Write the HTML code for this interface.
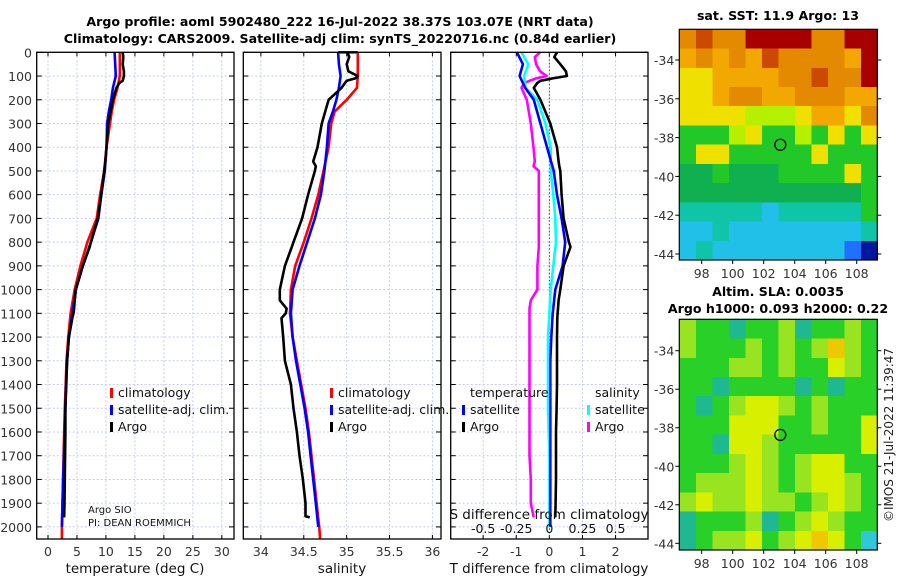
<!DOCTYPE html>
<html><head><meta charset="utf-8"><style>
html,body{margin:0;padding:0;background:#fff;}
svg{display:block;font-family:"DejaVu Sans","Liberation Sans",sans-serif;}
</style></head><body>
<svg id="fig" width="900" height="580" viewBox="0 0 900 580" xmlns="http://www.w3.org/2000/svg">
<rect x="0" y="0" width="900" height="580" fill="#fff"/>
<text x="340" y="26" text-anchor="middle" font-size="12.6" font-weight="bold" fill="#000">Argo profile: aoml 5902480_222 16-Jul-2022 38.37S 103.07E (NRT data)</text>
<text x="340" y="43" text-anchor="middle" font-size="12.6" font-weight="bold" fill="#000">Climatology: CARS2009. Satellite-adj clim: synTS_20220716.nc (0.84d earlier)</text>
<g id="panels"></g>
<text x="778" y="20" text-anchor="middle" font-size="12.6" font-weight="bold">sat. SST: 11.9 Argo: 13</text>
<text x="778" y="296" text-anchor="middle" font-size="12.6" font-weight="bold">Altim. SLA: 0.0035</text>
<text x="778" y="313" text-anchor="middle" font-size="12.6" font-weight="bold">Argo h1000: 0.093 h2000: 0.22</text>
<text transform="translate(893,435) rotate(-90)" text-anchor="middle" font-size="12" fill="#222">©IMOS 21-Jul-2022 11:39:47</text>
</svg>
<script>
// ---------- data ----------
const depthTicks = [0,100,200,300,400,500,600,700,800,900,1000,1100,1200,1300,1400,1500,1600,1700,1800,1900,2000];
const tempTicks = [0,5,10,15,20,25,30];
const salTicks = [34,34.5,35,35.5,36];
const salTickLabels = ["34","34.5","35","35.5","36"];
const tdiffTicks = [-2,-1,0,1,2];
const sdiffTicks = [-0.5,-0.25,0,0.25,0.5];
const sdiffTickLabels = ["-0.5","-0.25","0","0.25","0.5"];

const argoDepth = [0,20,50,80,100,110,120,130,150,200,300,400,460,480,500,600,700,800,820,900,1000,1045,1080,1100,1120,1200,1300,1400,1500,1600,1700,1800,1900,1955,1960];
const argoTemp  = [12.9,13.0,12.9,13.1,13.1,13.0,12.9,12.3,11.8,11.2,10.4,10.1,9.9,9.8,9.7,9.2,8.6,7.4,7.2,6.0,4.8,4.6,4.5,4.4,4.2,3.6,3.3,3.15,3.0,3.0,2.95,2.9,2.85,2.8,2.8];
const argoSal   = [35.01,35.03,35.0,35.02,35.13,35.1,35.0,34.98,34.94,34.79,34.71,34.66,34.61,34.64,34.63,34.55,34.48,34.38,34.36,34.28,34.22,34.22,34.30,34.29,34.24,34.26,34.28,34.35,34.38,34.42,34.45,34.49,34.52,34.52,34.57];
const argoTdiff = [0.23,0.15,0.33,0.5,0.53,0.1,-0.27,-0.37,-0.47,-0.27,0.03,0.23,0.28,0.3,0.33,0.37,0.43,0.59,0.64,0.43,0.33,0.28,0.26,0.25,0.24,0.23,0.23,0.23,0.22,0.2,0.2,0.2,0.19,0.18,0.18];
const argoSdiff = [-0.07,-0.11,-0.1,-0.07,-0.02,-0.1,-0.15,-0.19,-0.21,-0.17,-0.14,-0.12,-0.11,-0.12,-0.08,-0.08,-0.08,-0.08,-0.08,-0.09,-0.09,-0.14,-0.15,-0.15,-0.15,-0.15,-0.15,-0.15,-0.15,-0.15,-0.15,-0.14,-0.14,-0.12,-0.12];

const climDepth = [0,50,100,150,200,250,300,400,500,600,700,800,900,1000,1100,1200,1300,1400,1500,1600,1700,1800,1900,2000,2050];
const climTemp  = [12.4,12.4,12.4,12.0,11.4,11.0,10.7,10.1,9.7,9.0,8.4,6.8,5.6,4.6,3.9,3.5,3.2,3.05,2.9,2.8,2.7,2.6,2.5,2.4,2.4];
const climSal   = [35.13,35.13,35.13,35.12,35.0,34.86,34.82,34.79,34.73,34.67,34.59,34.50,34.40,34.35,34.34,34.37,34.42,34.47,34.52,34.56,34.59,34.62,34.65,34.68,34.69];
const satTemp   = [11.5,11.6,11.7,11.2,10.9,10.5,10.2,10.1,9.8,9.2,8.7,7.4,6.0,4.8,4.2,3.6,3.3,3.1,3.0,2.85,2.75,2.6,2.5,2.4,2.4];
const satSal    = [34.90,34.91,34.93,34.91,34.88,34.84,34.79,34.77,34.74,34.70,34.63,34.54,34.45,34.37,34.35,34.37,34.41,34.46,34.51,34.55,34.58,34.61,34.64,34.67,34.68];
const satTdiff  = [-0.98,-0.8,-0.9,-0.73,-0.47,-0.37,-0.27,-0.07,0.13,0.23,0.37,0.48,0.4,0.18,0.1,0.06,0.03,0.03,0.03,0.03,0.03,0.03,0.03,0.03,0.03];
const satSdiff  = [-0.21,-0.16,-0.19,-0.18,-0.09,-0.06,-0.03,0.01,0.01,0.03,0.045,0.05,0.03,0.01,0.0,-0.01,-0.01,-0.01,-0.01,-0.005,0,0,0,0,0];

// map data: rows north->south, 12 cols (lon ~96.6..109.4)
const sstRows = ["orooRRRRooRR","OoOoOrooooOR","yyOOOOoorooR","yyOooOOoooOO","yyyylllyOOyo","ggglygglgygy","gyygggggyggg","GGgGGGggggyg","GGGGGGGGGGGg","tttttctttttg","cctcccccccct","ctccccccccbB"];
const slaRows  = ["LggTggLTggLg","LgggLgLgLOLg","gggLLgLggyLg","ggTggggTgTgg","gTgLyyLgLggg","gggyyyggLggy","ggTyyLgggggy","gggLyLgLyygg","gLLLyLgLyyLg","LyLLyLLgLyLg","TgggLTgLyLgg","TgLLygLyOygC"];
const argoLon = 103.07, argoLat = -38.37;
const latTicks = [-34,-36,-38,-40,-42,-44];
const lonTicks = [98,100,102,104,106,108];

// ---------- drawing ----------
const NS="http://www.w3.org/2000/svg";
const root=document.getElementById('panels');
function mk(tag,attrs,parent){const e=document.createElementNS(NS,tag);for(const k in attrs)e.setAttribute(k,attrs[k]);(parent||root).appendChild(e);return e;}
const Y0=52.3, Y1=539;
function yD(d){return Y0+d*0.2373;}

function panel(name,x0,x1,vmin,vmax,ticks,labels){
  const sx=v=>x0+(v-vmin)/(vmax-vmin)*(x1-x0);
  const g=mk('g',{});
  
  
  ticks.forEach(t=>{const X=sx(t);
    const l=mk('line',{x1:X,x2:X,y1:Y0,y2:Y1,stroke:'#c6cde8','stroke-width':1,'stroke-dasharray':'2,2'},g);
    
    
    mk('line',{x1:X,x2:X,y1:Y1,y2:Y1-4,stroke:'#000'},g);
    mk('line',{x1:X,x2:X,y1:Y0,y2:Y0+4,stroke:'#000'},g);
  });
  depthTicks.forEach(d=>{const Y=yD(d);
    const l=mk('line',{x1:x0,x2:x1,y1:Y,y2:Y,stroke:'#c6cde8','stroke-width':1,'stroke-dasharray':'2,2'},g);
    
    
    mk('line',{x1:x0,x2:x0+5,y1:Y,y2:Y,stroke:'#000'},g);
    mk('line',{x1:x1-5,x2:x1,y1:Y,y2:Y,stroke:'#000'},g);
  });
  if(labels){ticks.forEach((t,i)=>{const tx=mk('text',{x:sx(t),y:556,'text-anchor':'middle','font-size':12.5,fill:'#333'},g);tx.textContent=labels[i];
    
    });}
  return {g,sx};
}
function line(p,depths,vals,color,name,w){
  const pts=depths.map((d,i)=>p.sx(vals[i]).toFixed(1)+','+yD(d).toFixed(1)).join(' ');
  const pl=mk('polyline',{points:pts,fill:'none',stroke:color,'stroke-width':w||2.6,'stroke-linejoin':'round'},p.g);
  
  
}
function frame(p,x0,x1){const r=mk('rect',{x:x0,y:Y0,width:x1-x0,height:Y1-Y0,fill:'none',stroke:'#000','stroke-width':1.3},p.g);
  
  }
function txt(p,x,y,s,size,name,anchor){const t=mk('text',{x:x,y:y,'font-size':size||12.5,fill:'#111','text-anchor':anchor||'start'},p.g);t.textContent=s;
  
  return t;}
function mark(p,x,y,color,name){const r=mk('rect',{x:x,y:y-10,width:3,height:10,fill:color},p.g);
  
  }

// temperature panel
const pT=panel('temperature-panel',36.7,234,-1.95,32.1,tempTicks,tempTicks.map(String));
depthTicks.forEach(d=>{const t=mk('text',{x:32,y:yD(d)+5,'text-anchor':'end','font-size':12.5,fill:'#333'},pT.g);t.textContent=d;
  
  });
line(pT,climDepth,climTemp,'#ff0000','temp-climatology-line');
line(pT,climDepth.slice(0,24),satTemp.slice(0,24),'#0000ff','temp-satellite-line');
line(pT,argoDepth,argoTemp,'#000000','temp-argo-line');
frame(pT,36.7,234);
txt(pT,135,573,'temperature (deg C)',13.5,'temperature-x-axis-title','middle');
mark(pT,110,398,'#ff0000','legend-climatology-marker');txt(pT,118,397,'climatology',12.5,'legend-climatology');
mark(pT,110,415,'#0000ff','legend-satellite-marker');txt(pT,118,414,'satellite-adj. clim.',12.5,'legend-satellite-adj');
mark(pT,110,432,'#000','legend-argo-marker');txt(pT,118,431,'Argo',12.5,'legend-argo');
txt(pT,88,513,'Argo SIO',10,'argo-sio-label');
txt(pT,88,526,'PI: DEAN ROEMMICH',10,'pi-label');

// salinity panel
const pS=panel('salinity-panel',243.3,441,33.795,36.1,salTicks,salTickLabels);
line(pS,[0,0],[34.9,35.13],'#0000ff','sal-surface-segment');
line(pS,climDepth,climSal,'#ff0000','sal-climatology-line');
line(pS,climDepth.slice(0,24),satSal.slice(0,24),'#0000ff','sal-satellite-line');
line(pS,argoDepth,argoSal,'#000000','sal-argo-line');
frame(pS,243.3,441);
txt(pS,342,573,'salinity',13.5,'salinity-x-axis-title','middle');
mark(pS,330,398,'#ff0000','legend-climatology-marker');txt(pS,338,397,'climatology',12.5,'legend-climatology');
mark(pS,330,415,'#0000ff','legend-satellite-marker');txt(pS,338,414,'satellite-adj. clim.',12.5,'legend-satellite-adj');
mark(pS,330,432,'#000','legend-argo-marker');txt(pS,338,431,'Argo',12.5,'legend-argo');

// difference panel (T scale; S plotted x4)
const pD=panel('difference-panel',450.7,648,-2.98,2.98,tdiffTicks,tdiffTicks.map(String));
const z=mk('line',{x1:pD.sx(0),x2:pD.sx(0),y1:Y0,y2:Y1,stroke:'#444','stroke-dasharray':'1.5,2'},pD.g);


line(pD,argoDepth,argoSdiff.map(v=>v*4),'#ff00ff','sal-diff-argo-line');
line(pD,climDepth.slice(0,24),satSdiff.slice(0,24).map(v=>v*4),'#00ffff','sal-diff-satellite-line');
line(pD,climDepth.slice(0,24),satTdiff.slice(0,24),'#0000ff','temp-diff-satellite-line');
line(pD,argoDepth,argoTdiff,'#000000','temp-diff-argo-line');
frame(pD,450.7,648);
txt(pD,549,573,'T difference from climatology',13.5,'tdiff-x-axis-title','middle');
txt(pD,549,519,'S difference from climatology',13.5,'sdiff-axis-title','middle');
sdiffTicks.forEach((s,i)=>{txt(pD,pD.sx(s*4),533,sdiffTickLabels[i],12.5,'sdiff-tick-label','middle');});
txt(pD,470,397,'temperature',12.5,'legend-temperature-header');
mark(pD,462,415,'#0000ff','legend-tsat-marker');txt(pD,470,414,'satellite',12.5,'legend-temp-satellite');
mark(pD,462,432,'#000','legend-targo-marker');txt(pD,470,431,'Argo',12.5,'legend-temp-argo');
txt(pD,595,397,'salinity',12.5,'legend-salinity-header');
mark(pD,587,415,'#00ffff','legend-ssat-marker');txt(pD,595,414,'satellite',12.5,'legend-sal-satellite');
mark(pD,587,432,'#ff00ff','legend-sargo-marker');txt(pD,595,431,'Argo',12.5,'legend-sal-argo');

// maps
const sstCol={R:'#a80000',r:'#cc4a00',o:'#e48a00',O:'#f2a800',y:'#f0e000',l:'#b4f000',g:'#22c828',G:'#10b050',t:'#10c4a8',c:'#20c0e8',b:'#2070ff',B:'#0018a0'};
const slaCol={g:'#28d028',L:'#98e420',y:'#d8f000',O:'#f0c800',T:'#20b890',C:'#30c8d8'};
function map(name,rows,cols,top,bottom,lat34,lat44){
  const X0=679.3,X1=877.3;
  const g=mk('g',{'shape-rendering':'crispEdges'});
  
  
  const nr=rows.length,nc=rows[0].length,cw=(X1-X0)/nc,ch=(bottom-top)/nr;
  rows.forEach((r,i)=>{for(let j=0;j<nc;j++){mk('rect',{x:X0+j*cw,y:top+i*ch,width:cw+0.6,height:ch+0.6,fill:cols[r[j]]},g);}});
  const g2=mk('g',{});
  const lonX=l=>701.7+(l-98)*15.5, latY=la=>lat34+(la+34)/(-10)*(lat44-lat34);
  mk('rect',{x:X0,y:top,width:X1-X0,height:bottom-top,fill:'none',stroke:'#000','stroke-width':1.2},g2);
  latTicks.forEach(la=>{const Y=latY(la);mk('line',{x1:X0-4,x2:X0,y1:Y,y2:Y,stroke:'#000'},g2);mk('line',{x1:X1,x2:X1+4,y1:Y,y2:Y,stroke:'#000'},g2);
    const t=mk('text',{x:X0-5,y:Y+5,'text-anchor':'end','font-size':12.5,fill:'#333'},g2);t.textContent=la;
    
    });
  lonTicks.forEach(lo=>{const X=lonX(lo);mk('line',{x1:X,x2:X,y1:bottom,y2:bottom+4,stroke:'#000'},g2);
    const t=mk('text',{x:X,y:bottom+18,'text-anchor':'middle','font-size':12.5,fill:'#333'},g2);t.textContent=lo;
    
    });
  const c=mk('circle',{cx:lonX(argoLon),cy:latY(argoLat),r:5.5,fill:'none',stroke:'#000','stroke-width':1.3},g2);
  
  
}
map('sst-map',sstRows,sstCol,29.3,260,60,254);
map('sla-map',slaRows,slaCol,319.3,550,350.7,543.3);
</script>
</body></html>
